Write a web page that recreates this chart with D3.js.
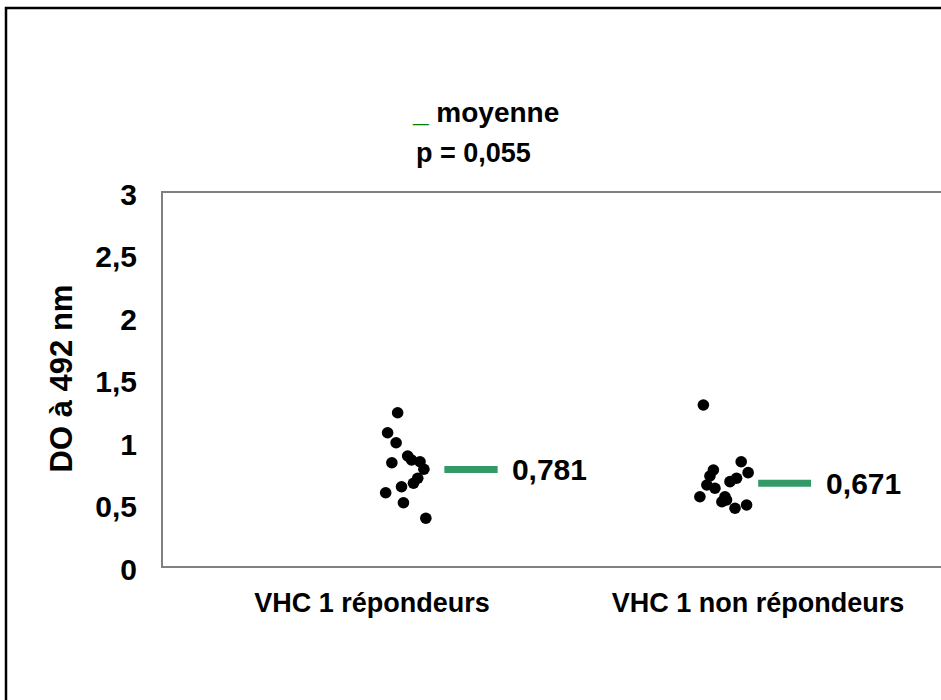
<!DOCTYPE html>
<html>
<head>
<meta charset="utf-8">
<script src="https://cdn.jsdelivr.net/npm/d3@7/dist/d3.min.js"></script>
<style>
  html, body { margin: 0; padding: 0; background: #fff; }
  svg { display: block; font-family: "Liberation Sans", Arial, sans-serif; font-weight: bold; }
</style>
</head>
<body>
<svg id="chart" width="941" height="700"></svg>
<script>
// ---- data ----
const categories = ["VHC 1 répondeurs", "VHC 1 non répondeurs"];
const categoryX = [1, 2];
const yTicks = [0, 0.5, 1, 1.5, 2, 2.5, 3];
const yTickLabels = ["0", "0,5", "1", "1,5", "2", "2,5", "3"];

// group 1: VHC 1 répondeurs (x = scatter position, y = DO)
const rep_x = [1.082, 1.056, 1.078, 1.067, 1.108, 1.118, 1.140, 1.150, 1.134, 1.123, 1.092, 1.051, 1.097, 1.155];
const rep_y = [1.234, 1.074, 0.994, 0.834, 0.888, 0.856, 0.842, 0.782, 0.710, 0.670, 0.642, 0.594, 0.514, 0.390];
// group 2: VHC 1 non répondeurs
const nonrep_x = [1.874, 1.972, 1.990, 1.900, 1.891, 1.960, 1.943, 1.883, 1.904, 1.865, 1.930, 1.922, 1.986, 1.956, 1.934];
const nonrep_y = [1.296, 0.842, 0.755, 0.776, 0.728, 0.710, 0.683, 0.656, 0.630, 0.562, 0.562, 0.522, 0.496, 0.470, 0.536];

const means = [0.781, 0.671];
const meanLabels = ["0,781", "0,671"];
const meanX0 = [1.203, 2.016];
const meanX1 = [1.341, 2.153];
const meanLabelX = [1.378, 2.192];

const legendText = "moyenne";
const pText = "p = 0,055";
const yTitle = "DO à 492 nm";

// ---- layout ----
const svg = d3.select("#chart");
const plot = { left: 162, top: 192, right: 950, bottom: 567 };

const x = d3.scaleLinear().domain([1, 2]).range([366, 752]);
const y = d3.scaleLinear().domain([0, 3]).range([plot.bottom, plot.top]);

// outer frame
svg.append("rect")
  .attr("x", 6).attr("y", 8).attr("width", 960).attr("height", 720)
  .attr("fill", "none").attr("stroke", "#000").attr("stroke-width", 2.5);

// plot area
svg.append("rect")
  .attr("x", plot.left).attr("y", plot.top)
  .attr("width", plot.right - plot.left).attr("height", plot.bottom - plot.top)
  .attr("fill", "none").attr("stroke", "#808080").attr("stroke-width", 2);

// y axis tick labels via d3 axis
const yAxis = d3.axisLeft(y).tickValues(yTicks)
  .tickFormat((d, i) => yTickLabels[i]).tickSize(0).tickPadding(0);
const gy = svg.append("g").attr("transform", "translate(137,0)").call(yAxis);
gy.select(".domain").remove();
gy.selectAll("text")
  .attr("font-family", "Liberation Sans, Arial, sans-serif")
  .attr("font-weight", "bold").attr("font-size", 30).attr("fill", "#000")
  .attr("dy", "0.4em");

// y title
svg.append("text")
  .attr("transform", `translate(72,${(y(0)+y(3))/2 - 1}) rotate(-90)`)
  .attr("text-anchor", "middle")
  .attr("font-size", 31).attr("fill", "#000")
  .text(yTitle);

// category labels
svg.selectAll(".cat").data(categories).join("text")
  .attr("class", "cat")
  .attr("x", (d, i) => x(categoryX[i]) + 6)
  .attr("y", 612)
  .attr("text-anchor", "middle")
  .attr("font-size", 27).attr("fill", "#000")
  .text(d => d);

// dots
const pts = rep_x.map((d, i) => ({ x: d, y: rep_y[i] }))
  .concat(nonrep_x.map((d, i) => ({ x: d, y: nonrep_y[i] })));
svg.selectAll(".dot").data(pts).join("circle")
  .attr("class", "dot")
  .attr("cx", d => x(d.x)).attr("cy", d => y(d.y))
  .attr("r", 5.8).attr("fill", "#000");

// mean lines
svg.selectAll(".mean").data(means).join("line")
  .attr("class", "mean")
  .attr("x1", (d, i) => x(meanX0[i])).attr("x2", (d, i) => x(meanX1[i]))
  .attr("y1", d => y(d)).attr("y2", d => y(d))
  .attr("stroke", "#339966").attr("stroke-width", 7);

svg.selectAll(".meanlab").data(means).join("text")
  .attr("class", "meanlab")
  .attr("x", (d, i) => x(meanLabelX[i]))
  .attr("y", d => y(d))
  .attr("dy", "0.36em")
  .attr("font-size", 30).attr("fill", "#000")
  .text((d, i) => meanLabels[i]);

// legend / p value
const lg = svg.append("text").attr("x", 413).attr("y", 122)
  .attr("font-size", 28).attr("fill", "#000");
lg.append("tspan").attr("fill", "#008000").text("_");
lg.append("tspan").text(" " + legendText);

svg.append("text").attr("x", 416).attr("y", 162)
  .attr("font-size", 27).attr("fill", "#000")
  .text(pText);
</script>
</body>
</html>
